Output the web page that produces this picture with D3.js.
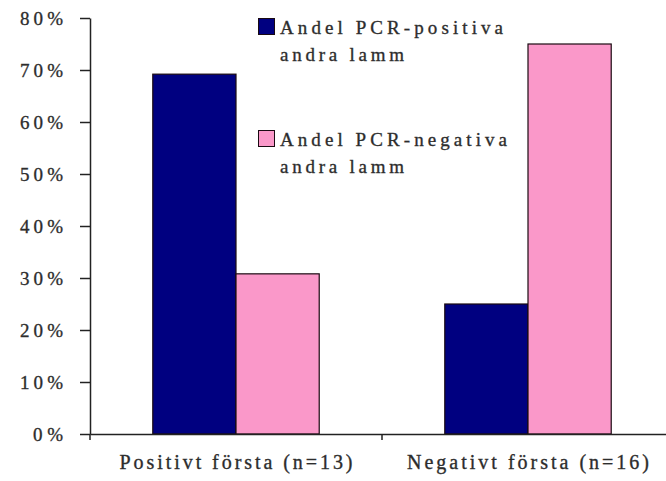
<!DOCTYPE html>
<html>
<head>
<meta charset="utf-8">
<script src="https://cdn.jsdelivr.net/npm/d3@7"></script>
<style>
  html, body { margin: 0; padding: 0; background: #fff; }
  svg { display: block; }
  text { font-family: "Liberation Serif", "Times New Roman", serif; fill: #2b2b2b; }
</style>
</head>
<body>
<svg id="chart" width="666" height="481"></svg>
<script>
// ---- data ----
const categories = ["Positivt första (n=13)", "Negativt första (n=16)"];
const seriesNames = ["Andel PCR-positiva andra lamm", "Andel PCR-negativa andra lamm"];
const positiveShare = [0.692, 0.25];
const negativeShare = [0.308, 0.75];
const yTicks = [0, 0.1, 0.2, 0.3, 0.4, 0.5, 0.6, 0.7, 0.8];

// ---- layout / style ----
const colors = ["#000080", "#FA98C9"];
const svg = d3.select("#chart");
const x0 = 90, x1 = 674, yBottom = 434, yTop = 18;

const x = d3.scaleBand().domain(categories).range([x0, x1]).paddingInner(0.43).paddingOuter(0.215);
const xs = d3.scaleBand().domain([0, 1]).range([0, x.bandwidth()]);
const y = d3.scaleLinear().domain([0, 0.8]).range([yBottom, yTop]);

const series = [positiveShare, negativeShare];

// bars
series.forEach((vals, si) => {
  svg.append("g").selectAll("rect").data(categories).join("rect")
    .attr("x", (c) => x(c) + xs(si))
    .attr("y", (c, i) => y(vals[i]))
    .attr("width", xs.bandwidth())
    .attr("height", (c, i) => y(0) - y(vals[i]))
    .attr("fill", colors[si])
    .attr("stroke", "#1a0a12")
    .attr("stroke-width", 1.2);
});

const textStroke = (sel) => sel.attr("stroke", "#333").attr("stroke-width", 0.35);

// y axis
const yAxis = svg.append("g").attr("transform", `translate(${x0},0)`)
  .call(d3.axisLeft(y).tickValues(yTicks).tickFormat(d3.format(".0%")).tickSize(10).tickSizeOuter(0).tickPadding(17));
yAxis.select(".domain").attr("stroke", "#222").attr("stroke-width", 1.5);
yAxis.selectAll(".tick line").attr("stroke", "#222").attr("stroke-width", 1.5);
yAxis.selectAll(".tick text")
  .attr("font-size", 19)
  .attr("font-family", "Liberation Serif, serif")
  .attr("fill", "#333")
  .attr("dy", "0.34em")
  .attr("textLength", (d) => d === 0 ? 30 : 43)
  .attr("lengthAdjust", "spacing")
  .call(textStroke);

// x axis
const xAxis = svg.append("g").attr("transform", `translate(0,${yBottom})`)
  .call(d3.axisBottom(x).tickSize(0).tickSizeOuter(0).tickPadding(0));
xAxis.select(".domain").attr("stroke", "#222").attr("stroke-width", 1.5);
xAxis.selectAll(".tick text")
  .attr("font-size", 20)
  .attr("font-family", "Liberation Serif, serif")
  .attr("fill", "#333")
  .attr("y", 35)
  .attr("dy", 0)
  .attr("textLength", (d, i) => i === 0 ? 233 : 242)
  .attr("lengthAdjust", "spacing")
  .call(textStroke);
// category boundary ticks
const bounds = [x0, x0 + x.step(), x0 + 2 * x.step()];
xAxis.selectAll("line.bound").data(bounds).join("line").attr("class", "bound")
  .attr("x1", (d) => d).attr("x2", (d) => d).attr("y1", 0).attr("y2", 6)
  .attr("stroke", "#222").attr("stroke-width", 1.5);

// legend
const legendLines = [["Andel PCR-positiva", "andra lamm"], ["Andel PCR-negativa", "andra lamm"]];
const legendWidths = [[223, 124], [227, 124]];
const legend = svg.append("g");
legendLines.forEach((lines, i) => {
  const top = 18 + i * 112;
  legend.append("rect")
    .attr("x", 258.5).attr("y", top + 0.5).attr("width", 16).attr("height", 16)
    .attr("fill", colors[i]).attr("stroke", "#1a0a12").attr("stroke-width", 1);
  lines.forEach((ln, j) => {
    legend.append("text")
      .attr("x", 280).attr("y", top + 16 + j * 26.5)
      .attr("font-size", 19)
      .attr("fill", "#333")
      .attr("textLength", legendWidths[i][j])
      .attr("lengthAdjust", "spacing")
      .call(textStroke)
      .text(ln);
  });
});
</script>
</body>
</html>
